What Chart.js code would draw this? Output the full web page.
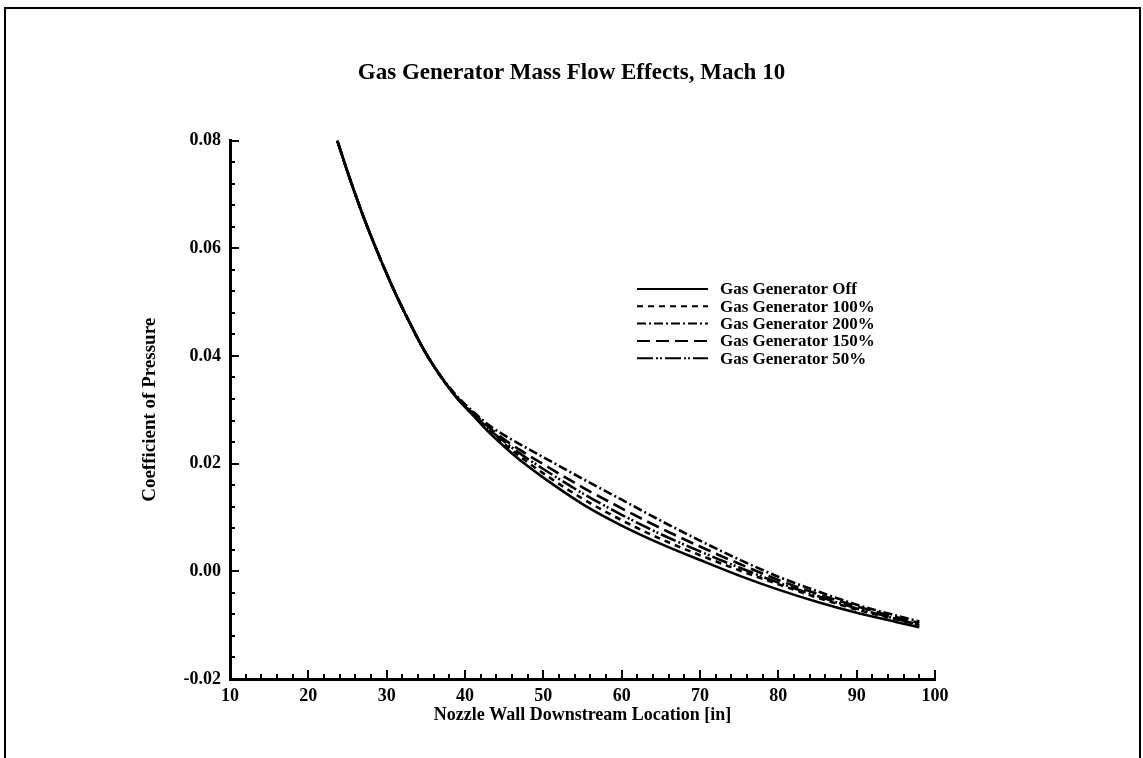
<!DOCTYPE html>
<html>
<head>
    <script src="https://cdn.jsdelivr.net/npm/chart.js@4.4.0/dist/chart.umd.min.js"></script>
    <style>
      html, body { margin: 0; padding: 0; background: #fff; }
      #wrap { width: 1143px; height: 758px; }
    </style>
</head>
<body>

<div id="wrap"><canvas id="myChart" width="1143" height="758"></canvas></div>

<script>
// x positions along the nozzle wall [in]
const xValues = [23.7, 25, 27, 29, 31, 33, 35, 37, 39, 41, 43, 45, 47.5, 50, 55, 60, 65, 70, 75, 80, 85, 90, 95, 98];

// Cp values (curves coincide up to ~41 in)
const cpOff = [0.0800, 0.0742, 0.0660, 0.0587, 0.0520, 0.0460, 0.0405, 0.0360, 0.0321, 0.0290, 0.0259, 0.0232, 0.0201, 0.0174, 0.0125, 0.0085, 0.0051, 0.0021, -0.0008, -0.0034, -0.0057, -0.0077, -0.0094, -0.0104];
const cp100 = [0.0800, 0.0742, 0.0660, 0.0587, 0.0520, 0.0460, 0.0405, 0.0360, 0.0322, 0.0292, 0.0263, 0.0237, 0.0208, 0.0182, 0.0135, 0.0095, 0.0060, 0.0030, 0.0002, -0.0024, -0.0049, -0.0071, -0.0089, -0.0100];
const cp200 = [0.0800, 0.0742, 0.0660, 0.0587, 0.0520, 0.0460, 0.0405, 0.0361, 0.0325, 0.0297, 0.0272, 0.0253, 0.0232, 0.0212, 0.0172, 0.0133, 0.0094, 0.0057, 0.0022, -0.0010, -0.0037, -0.0062, -0.0082, -0.0093];
const cp150 = [0.0800, 0.0742, 0.0660, 0.0587, 0.0520, 0.0460, 0.0405, 0.0360, 0.0323, 0.0295, 0.0268, 0.0245, 0.0221, 0.0199, 0.0156, 0.0117, 0.0080, 0.0046, 0.0014, -0.0016, -0.0042, -0.0065, -0.0085, -0.0096];
const cp50  = [0.0800, 0.0742, 0.0660, 0.0587, 0.0520, 0.0460, 0.0405, 0.0360, 0.0322, 0.0293, 0.0265, 0.0241, 0.0214, 0.0190, 0.0145, 0.0105, 0.0069, 0.0037, 0.0007, -0.0021, -0.0046, -0.0069, -0.0088, -0.0099];

const seriesNames = ['Gas Generator Off', 'Gas Generator 100%', 'Gas Generator 200%', 'Gas Generator 150%', 'Gas Generator 50%'];
const seriesData = [cpOff, cp100, cp200, cp150, cp50];
const seriesDash = [[], [6, 5], [9, 3, 2, 3], [13, 6], [16, 3, 2, 2, 2, 3]];

const xMin = 10, xMax = 100, xStep = 10, xMinorStep = 2;
const yMin = -0.02, yMax = 0.08, yStep = 0.02, yMinorStep = 0.004;

const serif = "'Liberation Serif', 'Times New Roman', serif";

function toPoints(arr) {
  return arr.map((v, i) => ({ x: xValues[i], y: v }));
}

// inward major/minor ticks like the original plot
const innerTicks = {
  id: 'innerTicks',
  afterDraw(chart) {
    const ctx = chart.ctx;
    const xs = chart.scales.x, ys = chart.scales.y;
    const left = chart.chartArea.left, bottom = chart.chartArea.bottom;
    ctx.save();
    ctx.strokeStyle = '#000';
    ctx.lineWidth = 2;
    for (let v = xMin; v <= xMax + 1e-9; v += xMinorStep) {
      const px = Math.round(xs.getPixelForValue(v));
      const major = Math.abs(v / xStep - Math.round(v / xStep)) < 1e-6;
      ctx.beginPath();
      ctx.moveTo(px, bottom);
      ctx.lineTo(px, bottom - (major ? 9 : 5));
      ctx.stroke();
    }
    for (let k = 0; k <= Math.round((yMax - yMin) / yMinorStep); k++) {
      const v = yMin + k * yMinorStep;
      const py = Math.round(ys.getPixelForValue(v));
      const major = k % 5 === 0;
      ctx.beginPath();
      ctx.moveTo(left, py);
      ctx.lineTo(left + (major ? 9 : 5), py);
      ctx.stroke();
    }
    ctx.restore();
  }
};

// legend drawn inside the plot area, line sample + label
const lineLegend = {
  id: 'lineLegend',
  afterDraw(chart) {
    const ctx = chart.ctx;
    const x0 = 637, x1 = 708, tx = 720, y0 = 289, dy = 17.3;
    ctx.save();
    ctx.font = 'bold 17px ' + serif;
    ctx.fillStyle = '#000';
    ctx.textBaseline = 'middle';
    chart.data.datasets.forEach((ds, i) => {
      const y = y0 + i * dy;
      ctx.strokeStyle = '#000';
      ctx.lineWidth = 2;
      ctx.setLineDash(ds.borderDash || []);
      ctx.beginPath();
      ctx.moveTo(x0, y);
      ctx.lineTo(x1, y);
      ctx.stroke();
      ctx.setLineDash([]);
      ctx.fillText(ds.label, tx, y + 1);
    });
    ctx.restore();
  }
};

// frame round the figure (top, left and right edges)
const frame = {
  id: 'frame',
  afterDraw(chart) {
    const ctx = chart.ctx;
    ctx.save();
    ctx.strokeStyle = '#000';
    ctx.lineWidth = 2;
    ctx.beginPath();
    ctx.moveTo(5, 758);
    ctx.lineTo(5, 8);
    ctx.lineTo(1140, 8);
    ctx.lineTo(1140, 758);
    ctx.stroke();
    ctx.restore();
  }
};

const ctx = document.getElementById('myChart').getContext('2d');
const myChart = new Chart(ctx, {
  type: 'line',
  data: {
    datasets: seriesNames.map((name, i) => ({
      label: name,
      data: toPoints(seriesData[i]),
      borderColor: '#000',
      backgroundColor: '#000',
      borderWidth: 2.6,
      borderDash: seriesDash[i],
      pointRadius: 0,
      fill: false,
      cubicInterpolationMode: 'monotone'
    }))
  },
  options: {
    responsive: false,
    animation: false,
    layout: { padding: 0 },
    plugins: {
      legend: { display: false },
      tooltip: { enabled: false },
      title: {
        display: true,
        text: 'Gas Generator Mass Flow Effects, Mach 10',
        color: '#000',
        font: { family: serif, size: 23, weight: 'bold', lineHeight: 1.2 },
        padding: { top: 59, bottom: 54 }
      }
    },
    scales: {
      x: {
        type: 'linear',
        min: xMin,
        max: xMax,
        afterFit(scale) { scale.height = 79; },
        border: { display: true, color: '#000', width: 3 },
        grid: { display: false, drawTicks: false },
        ticks: {
          stepSize: xStep,
          color: '#000',
          padding: 7,
          maxRotation: 0,
          font: { family: serif, size: 18, weight: 'bold' }
        },
        title: {
          display: true,
          text: 'Nozzle Wall Downstream Location [in]',
          color: '#000',
          font: { family: serif, size: 18, weight: 'bold', lineHeight: 1.2 },
          padding: { top: 0, bottom: 32 }
        }
      },
      y: {
        type: 'linear',
        min: yMin,
        max: yMax,
        afterFit(scale) { scale.width = 230; },
        border: { display: true, color: '#000', width: 3 },
        grid: { display: false, drawTicks: false },
        ticks: {
          stepSize: yStep,
          color: '#000',
          padding: 9,
          font: { family: serif, size: 18, weight: 'bold' },
          callback: v => v.toFixed(2)
        },
        title: {
          display: true,
          text: 'Coefficient of Pressure',
          color: '#000',
          font: { family: serif, size: 19, weight: 'bold', lineHeight: 1.2 },
          padding: { top: 139, bottom: 0 }
        }
      },
      // empty right-hand axis that only reserves the white margin
      yRight: {
        type: 'linear',
        position: 'right',
        display: true,
        afterFit(scale) { scale.width = 208; },
        border: { display: false },
        grid: { display: false, drawTicks: false },
        ticks: { display: false }
      }
    }
  },
  plugins: [innerTicks, lineLegend, frame]
});
</script>

</body>
</html>
